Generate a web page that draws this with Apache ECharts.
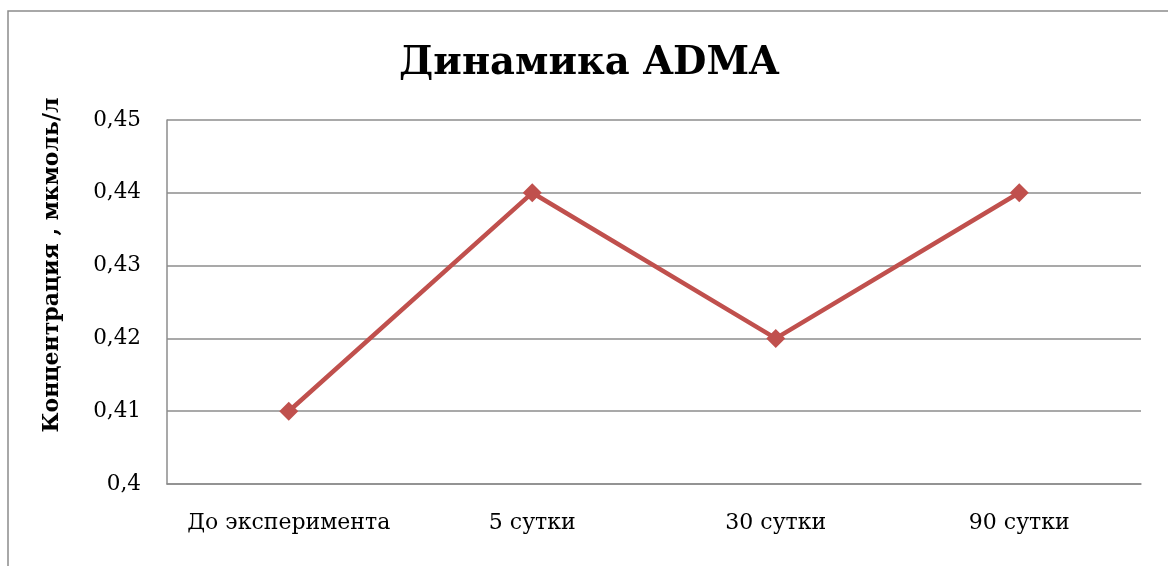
<!DOCTYPE html>
<html>
<head>
<meta charset="utf-8">
<script src="https://cdn.jsdelivr.net/npm/echarts@6/dist/echarts.min.js"></script>
<style>
  html, body { margin: 0; padding: 0; background: #fff; }
  #chart { width: 1168px; height: 566px; }
</style>
</head>
<body>
<div id="chart"></div>
<script>
// ADMA concentration over the course of the experiment
const categories = ['До эксперимента', '5 сутки', '30 сутки', '90 сутки'];
const admaValues = [0.41, 0.44, 0.42, 0.44];
const yTicks = { min: 0.4, max: 0.45, step: 0.01 };

const FONT = '"DejaVu Serif", "Liberation Serif", serif';
const chart = echarts.init(document.getElementById('chart'));

chart.setOption({
  backgroundColor: '#fff',
  animation: false,
  graphic: [{
    type: 'rect',
    shape: { x: 8, y: 11, width: 1200, height: 600 },
    style: { fill: 'none', stroke: '#8c8c8c', lineWidth: 1.5 },
    silent: true
  }],
  title: {
    text: 'Динамика ADMA',
    left: 584, top: 39, textAlign: 'center',
    textStyle: { fontFamily: FONT, fontSize: 38.5, fontWeight: 'bold', color: '#000' }
  },
  grid: { left: 167, right: 27, top: 120, bottom: 82 },
  xAxis: {
    type: 'category',
    data: categories,
    boundaryGap: true,
    axisLine: { lineStyle: { color: '#8c8c8c', width: 1.5 } },
    axisTick: { show: false },
    axisLabel: { interval: 0, fontFamily: FONT, fontSize: 22, color: '#000', margin: 28 }
  },
  yAxis: {
    type: 'value',
    min: yTicks.min, max: yTicks.max, interval: yTicks.step,
    name: 'Концентрация , мкмоль/л',
    nameLocation: 'middle', nameGap: 104, nameRotate: 90,
    nameTextStyle: {
      fontFamily: FONT, fontSize: 22, fontWeight: 'bold', color: '#000',
      padding: [0, 0, 0, 74]
    },
    axisLine: { show: true, lineStyle: { color: '#8c8c8c', width: 1.5 } },
    axisTick: { show: false },
    splitLine: { lineStyle: { color: '#8c8c8c', width: 1.5 } },
    axisLabel: {
      fontFamily: FONT, fontSize: 21.5, color: '#000', margin: 26,
      formatter: v => String(+v.toFixed(2)).replace('.', ',')
    }
  },
  series: [{
    type: 'line',
    data: admaValues,
    symbol: 'diamond',
    symbolSize: 19,
    lineStyle: { color: '#C0504D', width: 4.5 },
    itemStyle: { color: '#C0504D' }
  }]
});
</script>
</body>
</html>
